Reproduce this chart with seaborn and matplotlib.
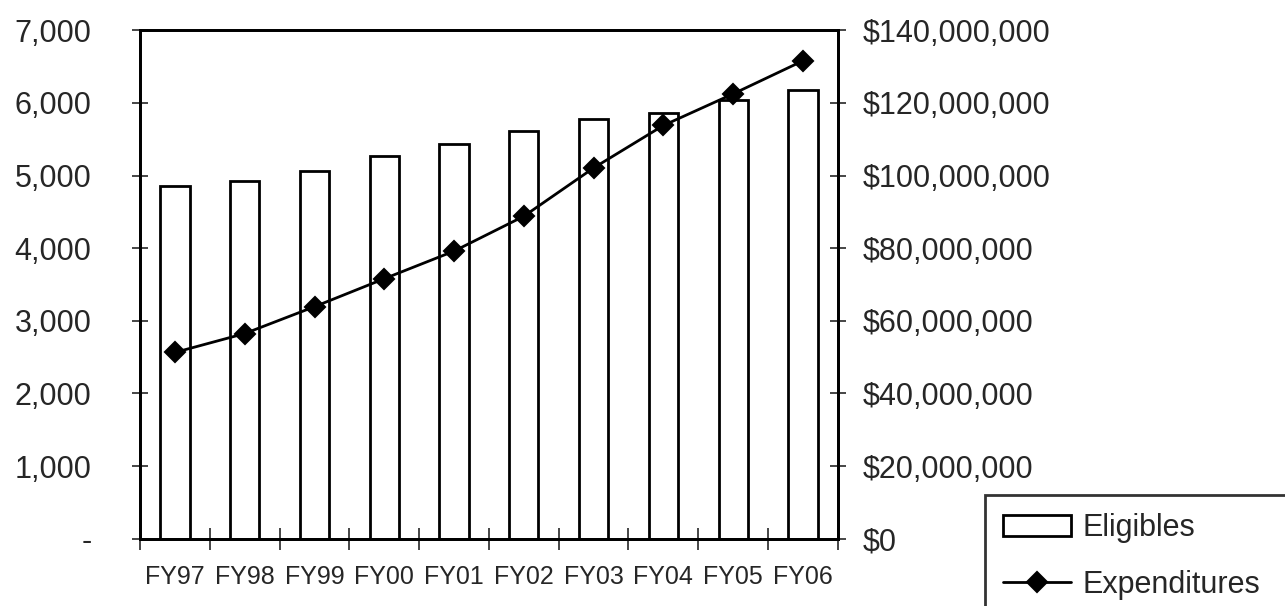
import matplotlib
matplotlib.use("Agg")
import matplotlib.pyplot as plt
from matplotlib.ticker import FuncFormatter, FixedLocator
import seaborn as sns

# Eligibles (left axis) and Expenditures (right axis) by fiscal year

years = ["FY97", "FY98", "FY99", "FY00", "FY01", "FY02", "FY03", "FY04", "FY05", "FY06"]
eligibles = [4855, 4930, 5065, 5270, 5435, 5610, 5775, 5865, 6040, 6180]
expenditures = [51300000, 56500000, 63900000, 71600000, 79200000,
                88800000, 102100000, 113800000, 122500000, 131600000]

sns.set_style("white")
plt.rcParams['font.family'] = ['Liberation Sans', 'DejaVu Sans']

fig = plt.figure(figsize=(12.85, 6.06), dpi=100)
ax = fig.add_axes([0.109, 0.111, 0.543, 0.839])

sns.barplot(x=years, y=eligibles, color="white", edgecolor="black", linewidth=2,
            width=0.42, saturation=1, label="Eligibles", ax=ax)

ax2 = ax.twinx()
sns.pointplot(x=years, y=expenditures, color="black", markers="D", linestyles="-",
              linewidth=2, markersize=10, label="Expenditures", ax=ax2)

for a in (ax, ax2):
    if a.get_legend() is not None:
        a.get_legend().remove()

ax.set_xlim(-0.5, len(years) - 0.5)
ax.set_ylim(0, 7000)
ax2.set_ylim(0, 140000000)
ax.set_yticks(range(0, 7001, 1000))
ax2.set_yticks(range(0, 140000001, 20000000))
ax.yaxis.set_major_formatter(FuncFormatter(lambda v, p: "-" if v == 0 else f"{v:,.0f}"))
ax2.yaxis.set_major_formatter(FuncFormatter(lambda v, p: f"${v:,.0f}"))

ax.set_xlabel("")
ax.set_ylabel("")
ax2.set_ylabel("")
ax.tick_params(axis="y", direction="inout", length=12, width=1.2, pad=29,
               labelsize=22, left=True)
ax2.tick_params(axis="y", direction="inout", length=12, width=1.2, pad=12,
                labelsize=22, right=True)
ax.tick_params(axis="x", which="major", length=0, pad=19, labelsize=18)
ax.xaxis.set_minor_locator(FixedLocator([i + 0.5 for i in range(-1, len(years))]))
ax.tick_params(axis="x", which="minor", direction="inout", length=16, width=1.2,
               bottom=True)

for a in (ax, ax2):
    for s in a.spines.values():
        s.set_visible(True)
        s.set_color("black")
        s.set_linewidth(2)

h1, l1 = ax.get_legend_handles_labels()
h2, l2 = ax2.get_legend_handles_labels()
leg = fig.legend(h1 + h2, l1 + l2, loc="upper left", mode="expand",
                 bbox_to_anchor=(985 / 1285, 0, 0.3, 1 - 495 / 606),
                 prop={"size": 22},
                 frameon=True, fancybox=False, edgecolor="black",
                 handlelength=2.2, handletextpad=0.4, labelspacing=0.87,
                 borderpad=0.6, borderaxespad=0)
leg.get_frame().set_linewidth(2)

fig.savefig("out.png", dpi=100)
